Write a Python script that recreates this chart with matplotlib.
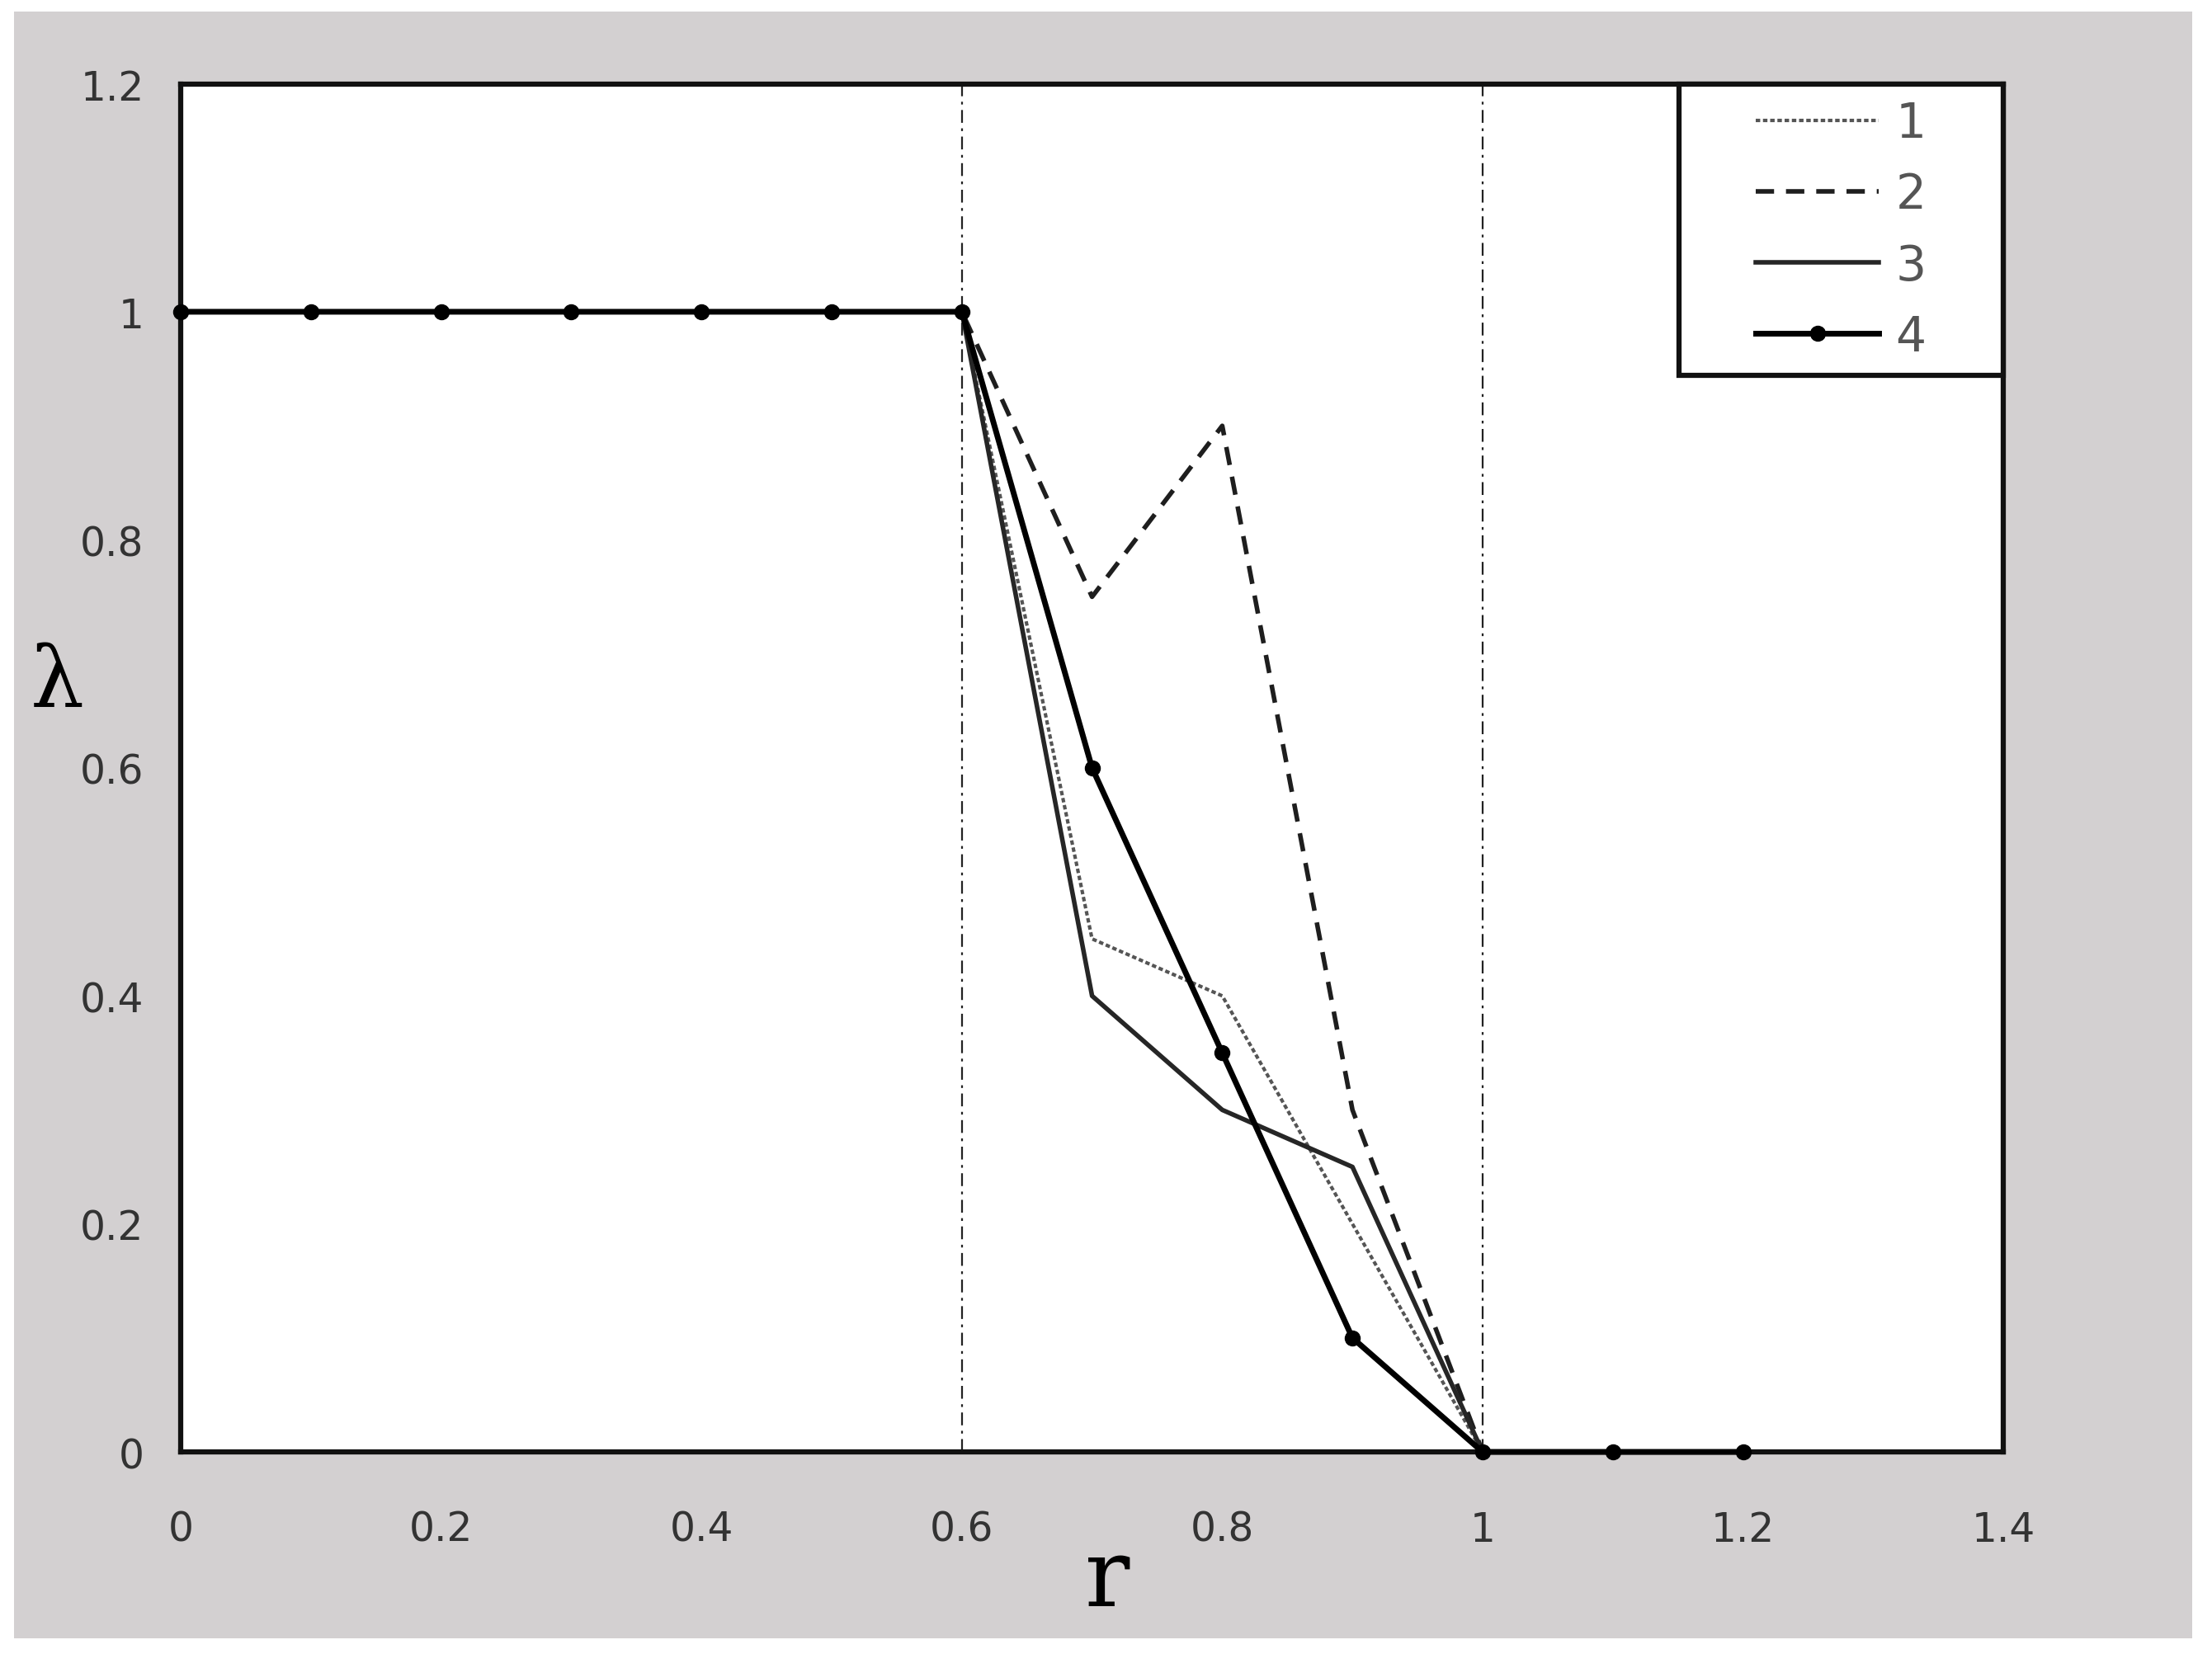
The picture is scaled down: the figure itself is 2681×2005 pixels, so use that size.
import numpy as np
import matplotlib
matplotlib.use("Agg")
import matplotlib.pyplot as plt
from matplotlib.patches import Rectangle

# curves
r1 = [0, 0.6, 0.7, 0.8, 1.0]
lam1 = [1, 1, 0.45, 0.40, 0]
r2 = [0, 0.6, 0.7, 0.8, 0.9, 1.0]
lam2 = [1, 1, 0.75, 0.90, 0.30, 0]
r3 = [0, 0.6, 0.7, 0.8, 0.9, 1.0]
lam3 = [1, 1, 0.40, 0.30, 0.25, 0]
r4 = [0, 0.1, 0.2, 0.3, 0.4, 0.5, 0.6, 0.7, 0.8, 0.9, 1.0, 1.1, 1.2]
lam4 = [1, 1, 1, 1, 1, 1, 1, 0.60, 0.35, 0.10, 0, 0, 0]
labels = ["1", "2", "3", "4"]
vlines = [0.6, 1.0]
xticks = [0, 0.2, 0.4, 0.6, 0.8, 1.0, 1.2, 1.4]
xticklabels = ["0", "0.2", "0.4", "0.6", "0.8", "1", "1.2", "1.4"]
yticks = [0, 0.2, 0.4, 0.6, 0.8, 1.0, 1.2]
yticklabels = ["0", "0.2", "0.4", "0.6", "0.8", "1", "1.2"]

fig = plt.figure(figsize=(26.81, 20.06), dpi=100, facecolor="white")
# gray panel behind everything
fig.patches.append(Rectangle((0.0063, 0.0095), 0.9848, 0.9830, transform=fig.transFigure,
                             facecolor="#d3d0d1", edgecolor="none", zorder=-10))
ax = fig.add_axes([0.0817, 0.1221, 0.824, 0.8268])
ax.set_facecolor("white")

for v in vlines:
    ax.plot([v, v], [0, 1.2], color="#222222", lw=1.6, dashes=(7, 3, 1.5, 3), zorder=1)

l1, = ax.plot(r1, lam1, color="#555555", lw=3.0, dashes=(1.3, 0.8), zorder=3)
l2, = ax.plot(r2, lam2, color="#1e1e1e", lw=4.0, dashes=(4, 2.6), zorder=3)
l3, = ax.plot(r3, lam3, color="#262626", lw=4.0, zorder=3)
l4, = ax.plot(r4, lam4, color="black", lw=5.0, marker="o", markersize=13, zorder=4, clip_on=False)

ax.set_xlim(0, 1.4)
ax.set_ylim(0, 1.2)
ax.set_xticks(xticks)
ax.set_xticklabels(xticklabels)
ax.set_yticks(yticks)
ax.set_yticklabels(yticklabels)
ax.tick_params(axis="both", length=0, labelsize=35, labelcolor="#333333")
ax.tick_params(axis="x", pad=50)
ax.tick_params(axis="y", pad=32)
for s in ax.spines.values():
    s.set_linewidth(4.5)
    s.set_color("#111111")

# legend frame sits in the top right corner, tight against the spines
ax.add_patch(Rectangle((0.822, 0.787), 0.178, 0.213, transform=ax.transAxes,
                       facecolor="white", edgecolor="#111111", lw=4.5, zorder=5, clip_on=False))
leg = ax.legend([l1, l2, l3, l4], labels, loc="center", bbox_to_anchor=(0.911, 0.893),
                frameon=False, fontsize=42, handlelength=2.55, handletextpad=0.35,
                labelspacing=0.5, borderpad=0)
leg.set_zorder(6)
for t in leg.get_texts():
    t.set_color("#555555")

fig.text(0.026, 0.587, "λ", family="DejaVu Serif", fontsize=74, ha="center", va="center")
fig.text(0.5006, 0.045, "r", family="DejaVu Serif", fontsize=82, ha="center", va="center")

plt.savefig("out.png", dpi=100, facecolor="white")
